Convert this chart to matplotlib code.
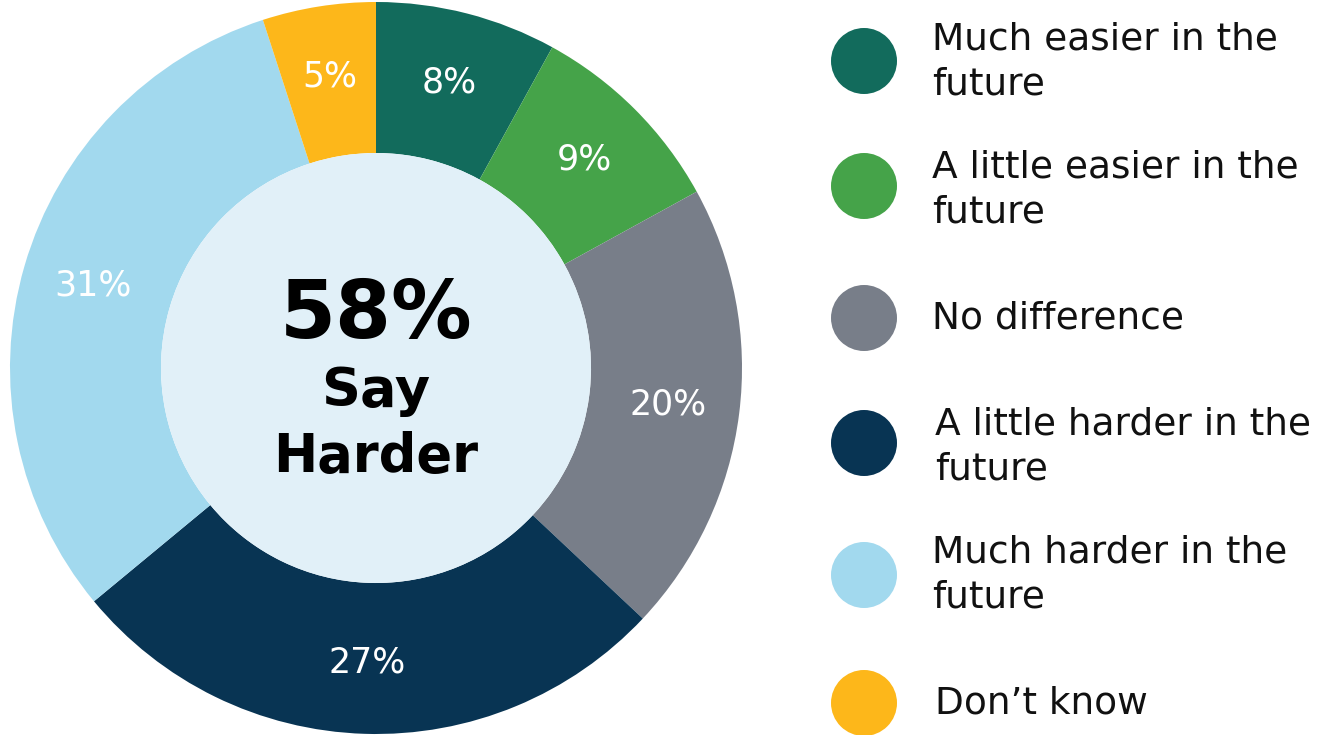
import numpy as np
import matplotlib.pyplot as plt
from matplotlib.patches import Circle

categories = ["Much easier in the\nfuture", "A little easier in the\nfuture", "No difference",
              "A little harder in the\nfuture", "Much harder in the\nfuture", "Don\u2019t know"]
values = [8, 9, 20, 27, 31, 5]
colors = ["#126b5c", "#45a349", "#787e89", "#083453", "#a2d9ee", "#fdb71a"]
center_big = "58%"
center_small = ["Say", "Harder"]

W, H = 1332, 735
fig = plt.figure(figsize=(W / 100, H / 100), dpi=100)
fig.patch.set_facecolor("white")

# donut: centre (376, 368) px, outer radius 366 px, inner 215 px
cx, cy, R = 376, 368, 366
ax = fig.add_axes([(cx - R) / W, (H - cy - R) / H, 2 * R / W, 2 * R / H])
inner = 215 / R
wedges, _ = ax.pie(values, colors=colors, startangle=90, counterclock=False,
                   radius=1, wedgeprops=dict(width=1 - inner, linewidth=0))
ax.add_patch(Circle((0, 0), inner, facecolor="#e1f0f8", edgecolor="none", zorder=3))
ax.set_xlim(-1, 1)
ax.set_ylim(-1, 1)
ax.set_aspect("equal")
ax.axis("off")

# slice labels
label_r = 0.805
for w, v in zip(wedges, values):
    ang = np.deg2rad((w.theta1 + w.theta2) / 2)
    ax.text(label_r * np.cos(ang), label_r * np.sin(ang), f"{v}%", color="white",
            fontsize=25, ha="center", va="center", zorder=4)

# centre text (pixel coords -> axes data)
def to_ax(py):
    return (cy - py) / R

ax.text(0, to_ax(338), center_big, fontsize=58, fontweight="heavy", ha="center",
        va="baseline", color="black", zorder=4)
ax.text(0, to_ax(406), center_small[0], fontsize=39, fontweight="bold", ha="center",
        va="baseline", color="black", zorder=4)
ax.text(0, to_ax(472), center_small[1], fontsize=38, fontweight="bold", ha="center",
        va="baseline", color="black", zorder=4)

# legend drawn in pixel space
lax = fig.add_axes([0, 0, 1, 1])
lax.set_xlim(0, W)
lax.set_ylim(H, 0)
lax.axis("off")
legend_y = [61, 186, 318, 443, 575, 703]
text_y = [62, 190, 318, 447, 575, 703]
text_x = [932, 932, 932, 935, 932, 935]
for lab, col, y, tx, ty in zip(categories, colors, legend_y, text_x, text_y):
    lax.add_patch(Circle((864, y), 33, facecolor=col, edgecolor="none"))
    lax.text(tx, ty, lab, fontsize=27, ha="left", va="center", color="#111111",
             linespacing=1.32)

fig.savefig("out.png", dpi=100, facecolor="white")
